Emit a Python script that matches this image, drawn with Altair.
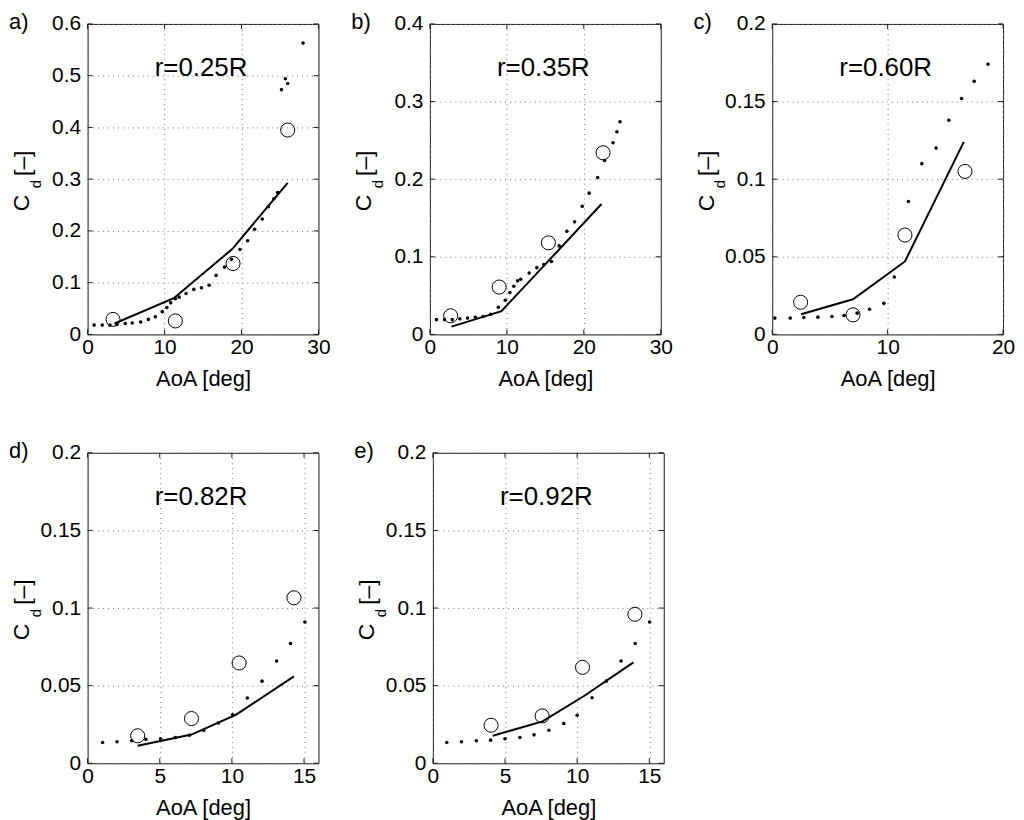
import altair as alt
import pandas as pd

FONT = "Liberation Sans"

# ---------------- panel a) r=0.25R ----------------
a_dot_x = [0.85, 1.9, 2.9, 3.8, 4.9, 5.8, 6.9, 7.9, 8.8, 9.7, 10.3, 10.8, 11.4, 11.9, 12.8, 13.8,
           14.8, 15.8, 16.7, 17.8, 18.7, 19.8, 20.8, 21.7, 22.7, 23.5, 24.2, 24.7, 25.2, 25.7, 26.0, 28.0]
a_dot_y = [0.018, 0.018, 0.018, 0.019, 0.021, 0.022, 0.024, 0.029, 0.034, 0.044, 0.052, 0.061, 0.069,
           0.072, 0.079, 0.087, 0.090, 0.095, 0.114, 0.130, 0.145, 0.164, 0.181, 0.203, 0.223, 0.247,
           0.262, 0.274, 0.473, 0.494, 0.485, 0.563]
a_line_x = [3.5, 11.2, 18.8, 26.0]
a_line_y = [0.021, 0.070, 0.165, 0.293]
a_circ_x = [3.3, 11.4, 18.9, 26.0]
a_circ_y = [0.029, 0.026, 0.137, 0.395]

# ---------------- panel b) r=0.35R ----------------
b_dot_x = [0.85, 1.9, 2.9, 3.9, 4.9, 5.9, 6.9, 7.9, 8.9, 9.8, 10.4, 10.9, 11.4, 11.8, 12.9, 13.9,
           14.8, 15.8, 16.8, 17.8, 18.8, 19.8, 20.7, 21.8, 22.7, 23.8, 24.3, 24.7]
b_dot_y = [0.019, 0.019, 0.019, 0.020, 0.021, 0.022, 0.023, 0.026, 0.035, 0.044, 0.054, 0.062, 0.069,
           0.071, 0.079, 0.086, 0.090, 0.094, 0.114, 0.133, 0.145, 0.165, 0.182, 0.202, 0.224, 0.247,
           0.261, 0.274]
b_line_x = [2.8, 9.3, 14.5, 22.3]
b_line_y = [0.010, 0.030, 0.085, 0.168]
b_circ_x = [2.7, 9.0, 15.4, 22.5]
b_circ_y = [0.024, 0.061, 0.118, 0.234]

# ---------------- panel c) r=0.60R ----------------
c_dot_x = [0.23, 1.56, 2.74, 3.96, 5.18, 6.22, 7.36, 8.43, 9.67, 10.58, 11.8, 12.96, 14.2, 15.3,
           16.4, 17.5, 18.7]
c_dot_y = [0.0105, 0.0105, 0.0109, 0.0111, 0.0115, 0.0122, 0.0137, 0.0162, 0.020, 0.037, 0.0856,
           0.110, 0.120, 0.138, 0.152, 0.163, 0.174]
c_line_x = [2.5, 7.0, 11.5, 16.6]
c_line_y = [0.013, 0.0226, 0.047, 0.124]
c_circ_x = [2.46, 7.0, 11.5, 16.7]
c_circ_y = [0.0207, 0.0126, 0.064, 0.105]

# ---------------- panel d) r=0.82R ----------------
d_dot_x = [1.04, 2.04, 3.06, 4.04, 5.06, 6.08, 7.05, 8.05, 9.07, 10.05, 11.07, 12.09, 13.1, 14.06, 15.06]
d_dot_y = [0.0134, 0.0139, 0.0145, 0.0154, 0.0158, 0.0166, 0.0181, 0.0211, 0.026, 0.0313, 0.042,
           0.0529, 0.0659, 0.0772, 0.091]
d_line_x = [3.47, 7.2, 10.3, 14.3]
d_line_y = [0.0113, 0.0185, 0.0313, 0.056]
d_circ_x = [3.47, 7.2, 10.5, 14.3]
d_circ_y = [0.0177, 0.0288, 0.0646, 0.1066]

# ---------------- panel e) r=0.92R ----------------
e_dot_x = [0.96, 1.98, 3.01, 4.0, 5.0, 6.03, 7.01, 8.04, 9.07, 10.0, 11.03, 12.01, 13.04, 14.02, 15.02]
e_dot_y = [0.0134, 0.0139, 0.0145, 0.0149, 0.0158, 0.0166, 0.0183, 0.0213, 0.0256, 0.0309, 0.0422,
           0.0529, 0.0659, 0.0772, 0.091]
e_line_x = [4.15, 7.6, 10.5, 13.9]
e_line_y = [0.0177, 0.027, 0.0435, 0.065]
e_circ_x = [4.03, 7.57, 10.37, 14.0]
e_circ_y = [0.0245, 0.0305, 0.0618, 0.096]

W, H = 232, 312
TK = 5  # inward tick length (px)
L = 79  # left offset of the panel label


def txt(s, **kw):
    return alt.Chart(pd.DataFrame({"t": [s]})).mark_text(font=FONT, color="black", **kw)


def panel(label, rtext, dx, dy, lx, ly, cx, cy, xdom, xticks, ydom, yticks):
    xs = alt.Scale(domain=xdom, nice=False, zero=False)
    ys = alt.Scale(domain=ydom, nice=False, zero=False)
    X = alt.X("aoa:Q", scale=xs, axis=alt.Axis(values=xticks, title="AoA [deg]", format=".3~f"))
    Y = alt.Y("cd:Q", scale=ys, axis=alt.Axis(values=yticks, title=None, format=".3~f"))
    xt = pd.DataFrame({"aoa": xticks})
    yt = pd.DataFrame({"cd": yticks})
    tick_style = dict(color="#1a1a1a", strokeWidth=1)
    tb = alt.Chart(xt).mark_rule(**tick_style).encode(x=X, y=alt.value(H), y2=alt.value(H - TK))
    tt = alt.Chart(xt).mark_rule(**tick_style).encode(x=X, y=alt.value(0), y2=alt.value(TK))
    tl = alt.Chart(yt).mark_rule(**tick_style).encode(y=Y, x=alt.value(0), x2=alt.value(TK))
    tr = alt.Chart(yt).mark_rule(**tick_style).encode(y=Y, x=alt.value(W), x2=alt.value(W - TK))
    line = alt.Chart(pd.DataFrame({"aoa": lx, "cd": ly})).mark_line(
        color="black", strokeWidth=2).encode(x=X, y=Y)
    dots = alt.Chart(pd.DataFrame({"aoa": dx, "cd": dy})).mark_circle(
        color="black", size=13, opacity=1).encode(x=X, y=Y)
    circ = alt.Chart(pd.DataFrame({"aoa": cx, "cd": cy})).mark_point(
        shape="circle", filled=False, color="black", size=200, strokeWidth=1, opacity=1
    ).encode(x=X, y=Y)
    lab = txt(label, fontSize=22, align="left", baseline="alphabetic").encode(
        text="t:N", x=alt.value(-L), y=alt.value(5))
    rt = txt(rtext, fontSize=26, align="center", baseline="alphabetic").encode(
        text="t:N", x=alt.value(W / 2 - 2), y=alt.value(52))
    yc = txt("C", fontSize=23, angle=270, align="center", baseline="middle").encode(
        text="t:N", x=alt.value(-66), y=alt.value(180))
    yd = txt("d", fontSize=15, angle=270, align="center", baseline="middle").encode(
        text="t:N", x=alt.value(-52), y=alt.value(161))
    yu = txt("[\u2013]", fontSize=23, angle=270, align="center", baseline="middle").encode(
        text="t:N", x=alt.value(-65), y=alt.value(140))
    return alt.layer(tb, tt, tl, tr, line, dots, circ, lab, rt, yc, yd, yu).properties(width=W, height=H)


pa = panel("a)", "r=0.25R", a_dot_x, a_dot_y, a_line_x, a_line_y, a_circ_x, a_circ_y,
           [0, 30], [0, 10, 20, 30], [0, 0.6], [0, 0.1, 0.2, 0.3, 0.4, 0.5, 0.6])
pb = panel("b)", "r=0.35R", b_dot_x, b_dot_y, b_line_x, b_line_y, b_circ_x, b_circ_y,
           [0, 30], [0, 10, 20, 30], [0, 0.4], [0, 0.1, 0.2, 0.3, 0.4])
pc = panel("c)", "r=0.60R", c_dot_x, c_dot_y, c_line_x, c_line_y, c_circ_x, c_circ_y,
           [0, 20], [0, 10, 20], [0, 0.2], [0, 0.05, 0.1, 0.15, 0.2])
pd_ = panel("d)", "r=0.82R", d_dot_x, d_dot_y, d_line_x, d_line_y, d_circ_x, d_circ_y,
            [0, 16], [0, 5, 10, 15], [0, 0.2], [0, 0.05, 0.1, 0.15, 0.2])
pe = panel("e)", "r=0.92R", e_dot_x, e_dot_y, e_line_x, e_line_y, e_circ_x, e_circ_y,
           [0, 16], [0, 5, 10, 15], [0, 0.2], [0, 0.05, 0.1, 0.15, 0.2])

row1 = alt.hconcat(pa, pb, pc, spacing=19)
row2 = alt.hconcat(pd_, pe, spacing=34)

chart = alt.vconcat(row1, row2, spacing=49).properties(
    padding=0, background="white"
).configure_view(
    stroke="#1a1a1a", strokeWidth=1
).configure_axis(
    labelFont=FONT, titleFont=FONT, labelFontSize=21, titleFontSize=22,
    labelColor="black", titleColor="black", titleFontWeight="normal",
    domain=False, ticks=False, tickSize=0, labelFlush=False, labelOverlap=False,
    grid=True, gridColor="#777777", gridDash=[1, 4], gridWidth=1, gridOpacity=1,
).configure_axisX(labelPadding=2, titlePadding=11
).configure_axisY(labelPadding=7)

chart.save("out.html", embed_options={"renderer": "svg", "actions": False})
